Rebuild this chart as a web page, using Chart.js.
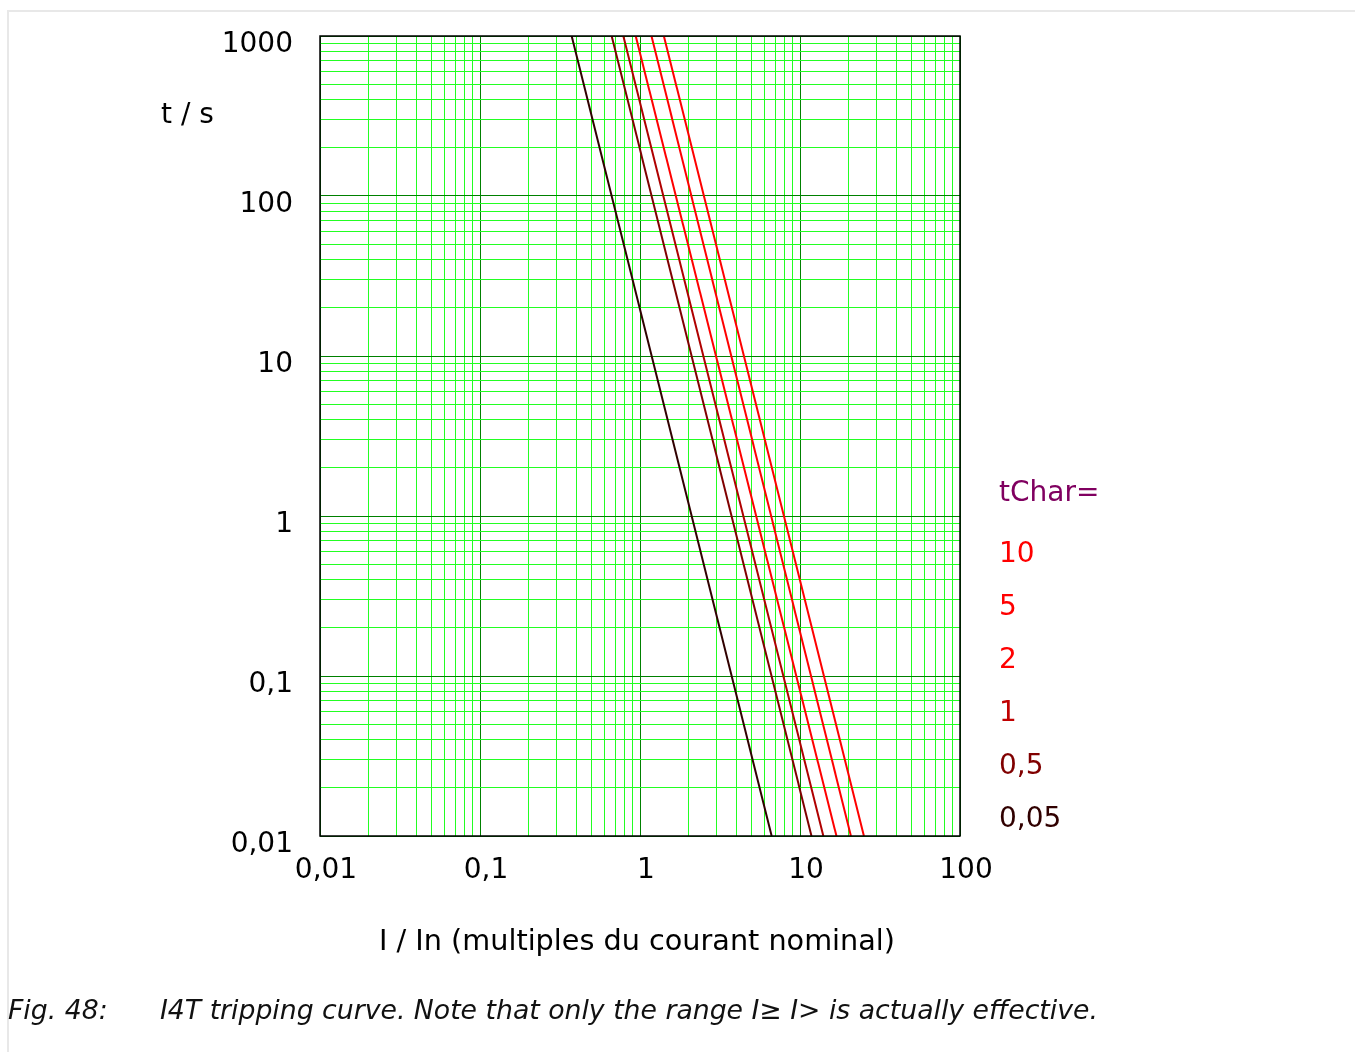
<!DOCTYPE html>
<html>
<head>
<meta charset="utf-8">
<script src="https://cdn.jsdelivr.net/npm/chart.js"></script>
<style>
  html, body { margin: 0; padding: 0; background: #fff; }
  body { width: 1355px; height: 1052px; position: relative; overflow: hidden; font-family: "DejaVu Sans", sans-serif; }
  #frame { position: absolute; left: 7px; top: 10px; right: 0; bottom: 0; border-top: 2px solid #e8e8e8; border-left: 2px solid #e8e8e8; }
  #chart { position: absolute; left: 0; top: 0; }
  .txt { position: absolute; white-space: nowrap; font-size: 28px; line-height: 28px; color: #000; }
  .cap { position: absolute; white-space: nowrap; font-size: 26.7px; line-height: 26px; font-style: italic; color: #111; }
</style>
</head>
<body>
<div id="frame"></div>
<canvas id="chart" width="1355" height="1052"></canvas>

<div class="txt" style="left:161px; top:100px;">t / s</div>
<div class="txt" style="left:637px; top:926px; font-size:28.7px; transform:translateX(-50%);">I / In (multiples du courant nominal)</div>

<div class="txt" style="left:999px; top:478px; color:#800060;">tChar=</div>
<div id="legend"></div>

<div class="cap" style="left:8px; top:997px;">Fig. 48:</div>
<div class="cap" style="left:160px; top:997px;">I4T tripping curve. Note that only the range I≥ I&gt; is actually effective.</div>

<script>
// axes (log-log)
const xDecades = [0.01, 0.1, 1, 10, 100];
const xTickLabels = ['0,01', '0,1', '1', '10', '100'];
const yDecades = [0.01, 0.1, 1, 10, 100, 1000];
const yTickLabels = ['0,01', '0,1', '1', '10', '100', '1000'];

// curves: I/In where each line meets the top (1000 s) and bottom (0.01 s) edges
const tChar = ['10', '5', '2', '1', '0,5', '0,05'];
const timeAtEnds = [1000, 0.01];
const currentAtTop = [1.41, 1.18, 0.94, 0.787, 0.665, 0.374];
const currentAtBottom = [25.1, 20.8, 16.9, 14.0, 11.8, 6.65];
const lineColors = ['#ff0000', '#ff0000', '#ff0000', '#b00000', '#800000', '#300000'];
const legendColors = ['#ff0000', '#ff0000', '#ff0000', '#c00000', '#800000', '#300000'];

// legend text on the right
const legendBox = document.getElementById('legend');
tChar.forEach((name, i) => {
    const d = document.createElement('div');
    d.className = 'txt';
    d.style.left = '999px';
    d.style.top = (539 + i * 53) + 'px';
    d.style.color = legendColors[i];
    d.textContent = name;
    legendBox.appendChild(d);
});

function logTicks(decades) {
    const ticks = [];
    for (let i = 0; i < decades.length - 1; i++) {
        for (let m = 1; m < 10; m++) ticks.push({ value: Number((m * decades[i]).toPrecision(6)) });
    }
    ticks.push({ value: decades[decades.length - 1] });
    return ticks;
}

function decadeIndex(decades, v) {
    return decades.findIndex(d => Math.abs(v - d) / d < 1e-6);
}

const framePlugin = {
    id: 'frame',
    afterDatasetsDraw(chart) {
        const { ctx, chartArea: a } = chart;
        ctx.save();
        ctx.strokeStyle = '#000';
        ctx.lineWidth = 1.5;
        ctx.strokeRect(a.left, a.top, a.right - a.left, a.bottom - a.top);
        ctx.restore();
    }
};

const tickFont = { family: 'DejaVu Sans', size: 28 };

new Chart(document.getElementById('chart'), {
    type: 'line',
    data: {
        datasets: tChar.map((name, i) => ({
            label: 'tChar=' + name,
            data: [
                { x: currentAtTop[i], y: timeAtEnds[0] },
                { x: currentAtBottom[i], y: timeAtEnds[1] }
            ],
            borderColor: lineColors[i],
            borderWidth: 2,
            pointRadius: 0,
            fill: false,
            tension: 0
        }))
    },
    options: {
        responsive: false,
        animation: false,
        devicePixelRatio: 1,
        layout: { padding: { left: 0, top: 36, right: 395, bottom: 0 } },
        plugins: { legend: { display: false }, tooltip: { enabled: false } },
        scales: {
            x: {
                type: 'logarithmic',
                min: xDecades[0],
                max: xDecades[xDecades.length - 1],
                afterBuildTicks: scale => { scale.ticks = logTicks(xDecades); },
                afterFit: scale => {
                    scale.height = 216;
                    scale.paddingLeft = 0;
                    scale.paddingRight = 0;
                },
                border: { display: false },
                grid: {
                    drawTicks: false,
                    lineWidth: 1,
                    color: ctx => decadeIndex(xDecades, ctx.tick.value) >= 0 ? '#008000' : '#22ff22'
                },
                ticks: {
                    autoSkip: false,
                    maxRotation: 0,
                    padding: 18,
                    labelOffset: 6,
                    color: '#000',
                    font: tickFont,
                    callback: v => {
                        const i = decadeIndex(xDecades, v);
                        return i >= 0 ? xTickLabels[i] : '';
                    }
                }
            },
            y: {
                type: 'logarithmic',
                min: yDecades[0],
                max: yDecades[yDecades.length - 1],
                afterBuildTicks: scale => { scale.ticks = logTicks(yDecades); },
                afterFit: scale => {
                    scale.width = 320;
                    scale.paddingTop = 0;
                    scale.paddingBottom = 0;
                },
                border: { display: false },
                grid: {
                    drawTicks: false,
                    lineWidth: 1,
                    color: ctx => decadeIndex(yDecades, ctx.tick.value) >= 0 ? '#008000' : '#22ff22'
                },
                ticks: {
                    autoSkip: false,
                    padding: 27,
                    labelOffset: 9,
                    color: '#000',
                    font: tickFont,
                    callback: v => {
                        const i = decadeIndex(yDecades, v);
                        return i >= 0 ? yTickLabels[i] : '';
                    }
                }
            }
        }
    },
    plugins: [framePlugin]
});
</script>
</body>
</html>
